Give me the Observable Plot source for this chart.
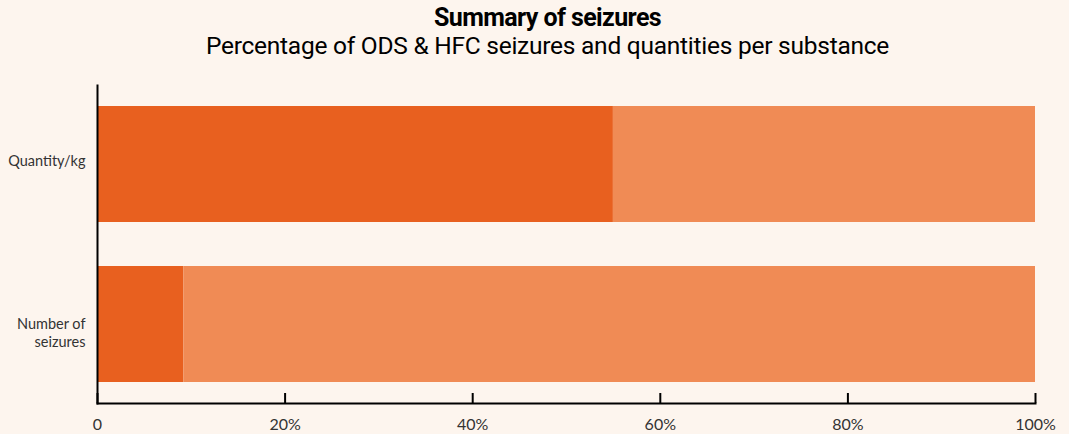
<!DOCTYPE html>
<html>
<head>
<meta charset="utf-8">
<script src="https://cdn.jsdelivr.net/npm/d3@7"></script>
<script src="https://cdn.jsdelivr.net/npm/@observablehq/plot@0.6"></script>
<style>
  html, body { margin: 0; padding: 0; background: #FDF5EE; }
  #wrap { width: 1069px; height: 434px; overflow: hidden; background: #FDF5EE; }
  #header { height: 66px; box-sizing: border-box; padding-top: 3px; padding-left: 26px; text-align: center; font-family: Roboto, sans-serif; color: #000; }
  #title { font-size: 25px; font-weight: 700; line-height: 29px; letter-spacing: -0.6px; }
  #subtitle { font-size: 24.5px; font-weight: 400; line-height: 28px; letter-spacing: -0.25px; }
  svg { display: block; }
</style>
</head>
<body>
<div id="wrap">
  <div id="header">
    <div id="title">Summary of seizures</div>
    <div id="subtitle">Percentage of ODS &amp; HFC seizures and quantities per substance</div>
  </div>
  <div id="chart"></div>
</div>
<script>
const categories = ["Quantity/kg", "Number of\nseizures"];
const substances = ["ODS", "HFC"];
const odsShare = [55, 9.2];
const hfcShare = [45, 90.8];
const xTicks = [0, 20, 40, 60, 80, 100];
const xTickLabels = ["0", "20%", "40%", "60%", "80%", "100%"];
const colors = ["#E8601F", "#F08B55"];

const rows = [];
categories.forEach((c, i) => {
  rows.push({category: c, substance: "ODS", value: odsShare[i]});
  rows.push({category: c, substance: "HFC", value: hfcShare[i]});
});

const plot = Plot.plot({
  width: 1069,
  height: 368,
  marginTop: 19,
  marginBottom: 31,
  marginLeft: 97,
  marginRight: 34,
  style: {background: "#FDF5EE", fontFamily: "Lato, sans-serif", fontSize: "14px", color: "#333"},
  x: {domain: [0, 100]},
  y: {domain: categories, paddingInner: 0.275, paddingOuter: 0.13},
  color: {domain: substances, range: colors},
  marks: [
    Plot.barX(rows, Plot.stackX({x: "value", y: "category", fill: "substance", order: substances})),
    Plot.ruleX(xTicks, {x: d => d, insetTop: 308, stroke: "#000", strokeWidth: 2}),
    Plot.axisX({ticks: xTicks, tickFormat: d => xTickLabels[xTicks.indexOf(d)], tickSize: 0, tickPadding: 15, fill: "#333", fontSize: 16, label: null}),
    Plot.axisY({ticks: [categories[0]], tickSize: 0, tickPadding: 12, fontSize: 14.5, dy: -3, fill: "#333", label: null}),
    Plot.axisY({ticks: [categories[1]], tickSize: 0, tickPadding: 12, fontSize: 14.5, lineHeight: 1.25, lineAnchor: "top", dy: -8, fill: "#333", label: null}),
    Plot.frame({anchor: "left", stroke: "#000", strokeWidth: 2}),
    Plot.frame({anchor: "bottom", stroke: "#000", strokeWidth: 2})
  ]
});
document.getElementById("chart").appendChild(plot);
</script>
</body>
</html>
